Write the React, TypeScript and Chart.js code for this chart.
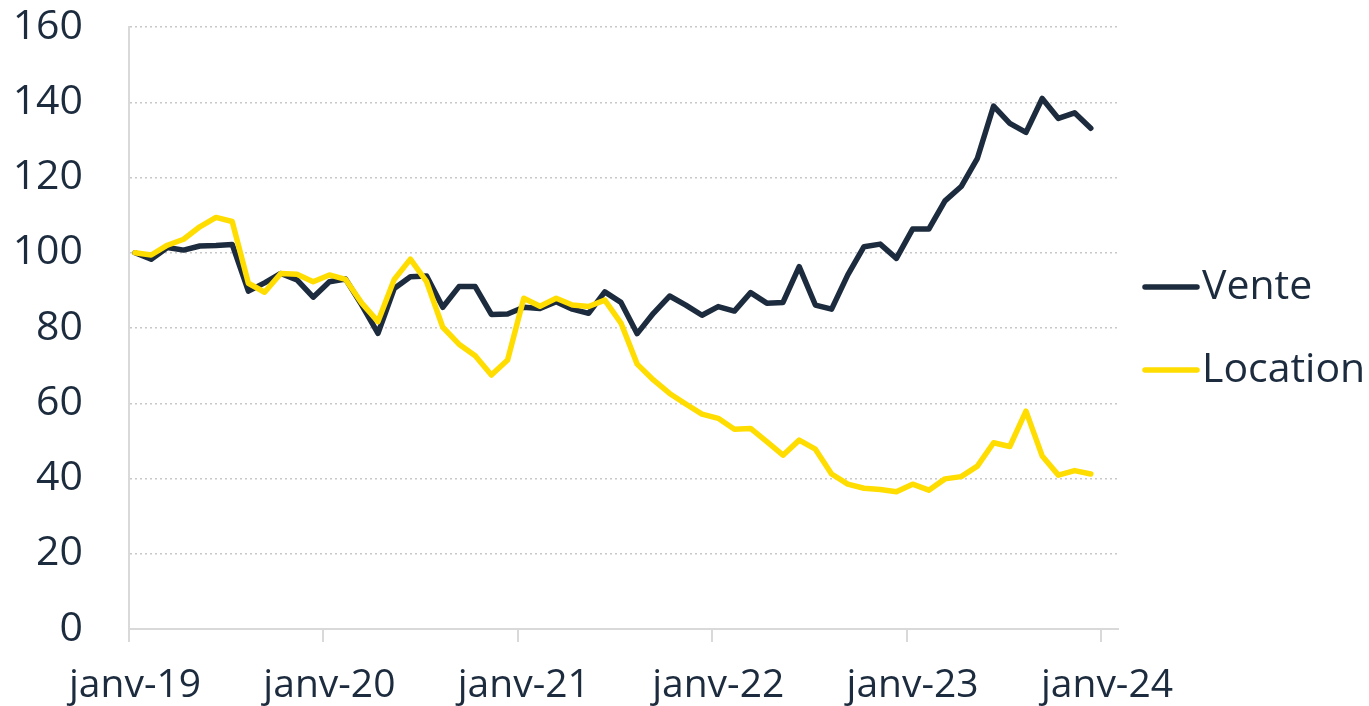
import React, { useEffect, useRef } from "react";
import { Chart, registerables } from "chart.js";

Chart.register(...registerables);

const seriesNames = ["Vente", "Location"];
const seriesColors = ["#1C2B3D", "#FFDD00"];

const venteValues = [
  100, 98.3, 101.4, 100.7, 101.8, 101.9, 102.2, 89.8, 92, 94.5, 92.8, 88.2,
  92.3, 93, 86.1, 78.6, 90.5, 93.6, 93.8, 85.5, 91, 91, 83.6, 83.7,
  85.5, 85.2, 87, 85, 83.9, 89.6, 86.8, 78.5, 83.9, 88.5, 86.1, 83.4,
  85.7, 84.5, 89.4, 86.6, 86.8, 96.3, 86.1, 85, 94.1, 101.6, 102.3, 98.5,
  106.3, 106.3, 113.8, 117.6, 125.1, 139, 134.4, 132, 141, 135.7, 137.2, 133.1,
];

const locationValues = [
  100, 99.4, 102, 103.6, 106.9, 109.4, 108.3, 91.9, 89.5, 94.5, 94.3, 92.3,
  94.1, 92.9, 86.6, 81.7, 92.9, 98.3, 92.3, 80.2, 75.7, 72.6, 67.5, 71.5,
  87.9, 85.8, 87.9, 86.1, 85.7, 87.4, 81.3, 70.4, 66.2, 62.6, 59.8, 57.1,
  56, 53.1, 53.3, 49.8, 46.2, 50.2, 47.8, 41.2, 38.5, 37.4, 37.1, 36.5,
  38.5, 36.9, 39.9, 40.5, 43.3, 49.5, 48.5, 57.9, 46, 40.9, 42.1, 41.2,
];

const xTickLabels = ["janv-19", "janv-20", "janv-21", "janv-22", "janv-23", "janv-24"];
const yTicks = [0, 20, 40, 60, 80, 100, 120, 140, 160];

const FONT = "'Open Sans', sans-serif";
const TEXT_COLOR = "#1C2B3D";
const MONTH_OFFSET = 0.37;

const legendPlugin = {
  id: "customLegend",
  afterDraw(chart: any) {
    const ctx = chart.ctx;
    const rows = [287, 370];
    ctx.save();
    chart.data.datasets.forEach((ds: any, i: number) => {
      const y = rows[i];
      ctx.strokeStyle = ds.borderColor;
      ctx.lineWidth = 5.5;
      ctx.lineCap = "round";
      ctx.beginPath();
      ctx.moveTo(1145, y);
      ctx.lineTo(1197, y);
      ctx.stroke();
      ctx.fillStyle = TEXT_COLOR;
      ctx.font = `41px ${FONT}`;
      ctx.textAlign = "left";
      ctx.textBaseline = "middle";
      ctx.fillText(ds.label, 1202, y);
    });
    ctx.restore();
  },
};

export default function App() {
  const canvasRef = useRef<HTMLCanvasElement | null>(null);

  useEffect(() => {
    if (!canvasRef.current) return;
    const allSeries = [venteValues, locationValues];
    const chart = new Chart(canvasRef.current, {
      type: "line",
      data: {
        datasets: allSeries.map((vals, i) => ({
          label: seriesNames[i],
          data: vals.map((v, k) => ({ x: k, y: v })),
          borderColor: seriesColors[i],
          backgroundColor: seriesColors[i],
          borderWidth: 5.5,
          borderJoinStyle: "round",
          borderCapStyle: "round",
          pointRadius: 0,
          tension: 0,
          fill: false,
          order: i === 0 ? 1 : 0,
        })),
      },
      options: {
        animation: false,
        responsive: true,
        maintainAspectRatio: false,
        layout: { padding: { left: 0, top: 27, right: 251, bottom: 0 } },
        plugins: { legend: { display: false }, tooltip: { enabled: false } },
        scales: {
          x: {
            type: "linear",
            min: -MONTH_OFFSET,
            max: 60.68,
            afterBuildTicks: (scale: any) => {
              scale.ticks = xTickLabels.map((_, k) => ({ value: k * 12 - MONTH_OFFSET }));
            },
            afterFit: (scale: any) => {
              scale.height = 77;
              scale.paddingLeft = 0;
              scale.paddingRight = 0;
            },
            ticks: {
              autoSkip: false,
              maxRotation: 0,
              padding: 20,
              labelOffset: 6,
              color: TEXT_COLOR,
              font: { family: FONT, size: 39 },
              callback: (_v: any, idx: number) => xTickLabels[idx],
            },
            grid: {
              drawOnChartArea: false,
              drawTicks: true,
              tickLength: 13,
              color: "#D9D9D9",
              lineWidth: 2,
            },
            border: { display: true, color: "#D9D9D9", width: 2 },
          },
          y: {
            min: 0,
            max: 160,
            afterBuildTicks: (scale: any) => {
              scale.ticks = yTicks.map((v) => ({ value: v }));
            },
            afterFit: (scale: any) => {
              scale.width = 129;
              scale.paddingTop = 0;
              scale.paddingBottom = 0;
            },
            ticks: {
              padding: 46,
              color: TEXT_COLOR,
              font: { family: FONT, size: 41 },
            },
            grid: {
              drawTicks: false,
              color: (c: any) => (c.tick && c.tick.value === 0 ? "rgba(0,0,0,0)" : "#C8C8C8"),
              lineWidth: 1.5,
            },
            border: { display: true, color: "#D9D9D9", width: 2, dash: [2, 3] as any },
          },
        },
      },
      plugins: [legendPlugin],
    } as any);
    return () => chart.destroy();
  }, []);

  return (
    <div style={{ position: "fixed", left: 0, top: 0, width: 1369, height: 706, background: "#fff" }}>
      <canvas ref={canvasRef} />
    </div>
  );
}
